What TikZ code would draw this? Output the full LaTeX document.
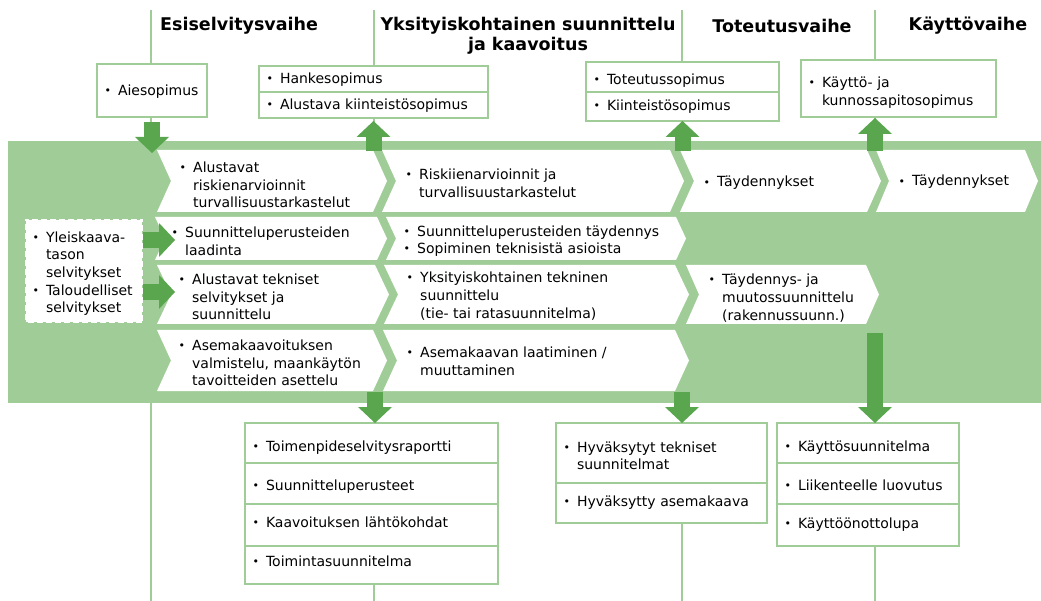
\documentclass[tikz,border=0pt]{standalone}
\usepackage{fontspec}
\setmainfont{DejaVu Sans}
\usetikzlibrary{arrows.meta}
\definecolor{band}{HTML}{A0CD97}
\definecolor{dark}{HTML}{5AA64F}
% bullet and hanging indent
\newcommand{\bu}{\makebox[14pt][l]{\hspace{0.5pt}\raisebox{0.8pt}{\fontsize{11}{11}\selectfont•}}}
\newcommand{\nb}{\hspace*{14pt}}
% white chevron: x left, x right, y top, y bottom, depth
\newcommand{\chev}[5]{\fill[white] (#1,#3) -- (#2,#3) -- ({#2+#5},{(#3+#4)/2}) -- (#2,#4) -- (#1,#4) -- ({#1+#5},{(#3+#4)/2}) -- cycle;}
\begin{document}
\begin{tikzpicture}[x=1pt,y=-1pt,font=\fontsize{14}{17.7}\selectfont,
  vline/.style={band,line width=2pt},
  cell/.style={draw=band,line width=2pt,fill=white,anchor=north west,align=left,
    inner ysep=0pt,inner xsep=7pt,outer sep=0pt},
  th/.style={text height=#1pt,text depth=0pt},
  txt/.style={anchor=west,align=left,inner sep=0pt},
  head/.style={font=\fontsize{17.5}{20}\selectfont\bfseries,inner sep=0pt},
  blk/.style={dark,line width=16pt,-{Triangle[width=34pt,length=16pt,line width=0pt]}}]
\useasboundingbox (0,0) rectangle (1041,601);

% phase lines
\foreach \x in {151,374,682,875}
  \draw[vline] (\x,10) -- (\x,601);

\node[head,anchor=west] (hesi) at (160,26) {Esiselvitysvaihe};
\node[head,align=center] (hyks) at (528,36) {Yksityiskohtainen suunnittelu\\ja kaavoitus};
\node[head] (htot) at (782,26) {Toteutusvaihe};
\node[head] (hkay) at (968,26) {Käyttövaihe};

% agreements
\node[cell,th=10,minimum width=110pt,minimum height=53pt,text width=96pt] (aie) at (97,64) {\bu Aiesopimus};
\node[cell,th=9,minimum width=229pt,minimum height=26pt,text width=215pt] (hanke) at (259,66) {\bu Hankesopimus};
\node[cell,th=9,minimum width=229pt,minimum height=26pt,text width=215pt] (akiin) at (259,92) {\bu Alustava kiinteistösopimus};
\node[cell,th=15,minimum width=193pt,minimum height=30pt,text width=179pt] (tsop) at (586,62) {\bu Toteutussopimus};
\node[cell,th=8,minimum width=193pt,minimum height=29pt,text width=179pt] (kiin) at (586,92) {\bu Kiinteistösopimus};
\node[cell,minimum width=195pt,minimum height=57pt,text width=181pt] (kpsop) at (801,60) {\rule{0pt}{19pt}\bu Käyttö- ja\\\nb kunnossapitosopimus};

% process band
\fill[band] (8,141) rectangle (1041,403);
\chev{157}{373}{150}{212}{14}
\chev{382}{670}{150}{212}{14}
\chev{680}{867}{150}{212}{14}
\chev{876}{1025}{150}{212}{13}
\chev{155}{377}{217}{260}{10}
\chev{386}{676}{217}{260}{10}
\chev{157}{375}{265}{324}{14}
\chev{384}{675}{265}{324}{14}
\chev{686}{866}{265}{324}{13}
\chev{157}{373}{330}{391}{14}
\chev{383}{675}{330}{391}{14}

\node[txt] (r1a) at (179,185) {\bu Alustavat\\\nb riskienarvioinnit\\\nb turvallisuustarkastelut};
\node[txt] (r1b) at (405,183) {\bu Riskiienarvioinnit ja\\\nb turvallisuustarkastelut};
\node[txt] (r1c) at (703,183) {\bu Täydennykset};
\node[txt] (r1d) at (898,182) {\bu Täydennykset};
\node[txt] (r2a) at (171,241) {\bu Suunnitteluperusteiden\\\nb laadinta};
\node[txt] (r2b) at (403,241) {\bu Suunnitteluperusteiden täydennys\\\bu Sopiminen teknisistä asioista};
\node[txt] (r3a) at (178,297) {\bu Alustavat tekniset\\\nb selvitykset ja\\\nb suunnittelu};
\node[txt] (r3b) at (406,296) {\bu Yksityiskohtainen tekninen\\\nb suunnittelu\\\nb (tie- tai ratasuunnitelma)};
\node[txt] (r3c) at (708,298) {\bu Täydennys- ja\\\nb muutossuunnittelu\\\nb (rakennussuunn.)};
\node[txt] (r4a) at (178,363) {\bu Asemakaavoituksen\\\nb valmistelu, maankäytön\\\nb tavoitteiden asettelu};
\node[txt] (r4b) at (406,361) {\bu Asemakaavan laatiminen /\\\nb muuttaminen};

\node[cell,draw=band,dash pattern=on 3pt off 6pt,minimum width=118pt,minimum height=104pt,text width=104pt] (yle) at (25,219)
  {\rule{0pt}{16pt}\bu Yleiskaava-\\\nb tason\\\nb selvitykset\\\bu Taloudelliset\\\nb selvitykset};

% results
\node[cell,th=17,minimum width=253pt,minimum height=40pt,text width=239pt] (toim) at (245,423) {\bu Toimenpideselvitysraportti};
\node[cell,th=14,minimum width=253pt,minimum height=41pt,text width=239pt] (sper) at (245,463) {\bu Suunnitteluperusteet};
\node[cell,th=5,minimum width=253pt,minimum height=42pt,text width=239pt] (klk) at (245,504) {\bu Kaavoituksen lähtökohdat};
\node[cell,th=3,minimum width=253pt,minimum height=38pt,text width=239pt] (tsuun) at (245,546) {\bu Toimintasuunnitelma};
\node[cell,minimum width=211pt,minimum height=60pt,text width=197pt] (hyvt) at (556,423) {\rule{0pt}{16pt}\bu Hyväksytyt tekniset\\\nb suunnitelmat};
\node[cell,th=7,minimum width=211pt,minimum height=40pt,text width=197pt] (hyva) at (556,483) {\bu Hyväksytty asemakaava};
\node[cell,th=17,minimum width=182pt,minimum height=40pt,text width=168pt] (ksuun) at (777,423) {\bu Käyttösuunnitelma};
\node[cell,th=14,minimum width=182pt,minimum height=41pt,text width=168pt] (lluov) at (777,463) {\bu Liikenteelle luovutus};
\node[cell,th=7,minimum width=182pt,minimum height=42pt,text width=168pt] (kolupa) at (777,504) {\bu Käyttöönottolupa};

% block arrows
\draw[blk] ([yshift=-5pt]aie.south) -- ([yshift=-36pt]aie.south);
\draw[blk] ([yshift=-33pt]akiin.south) -- ([yshift=-3pt]akiin.south);
\draw[blk] ([yshift=-30pt]kiin.south) -- (kiin.south);
\draw[blk] ([xshift=-23.5pt,yshift=-34pt]kpsop.south) -- ([xshift=-23.5pt,yshift=-1pt]kpsop.south);
\draw[blk] ([yshift=31pt]yle.east) -- ([xshift=32pt,yshift=31pt]yle.east);
\draw[blk] ([yshift=-21pt]yle.east) -- ([xshift=32pt,yshift=-21pt]yle.east);
\draw[blk] ([xshift=3.5pt,yshift=31pt]toim.north) -- ([xshift=3.5pt]toim.north);
\draw[blk] ([xshift=20.5pt,yshift=31pt]hyvt.north) -- ([xshift=20.5pt]hyvt.north);
\draw[blk] ([xshift=7pt,yshift=90pt]ksuun.north) -- ([xshift=7pt]ksuun.north);
\end{tikzpicture}
\end{document}
